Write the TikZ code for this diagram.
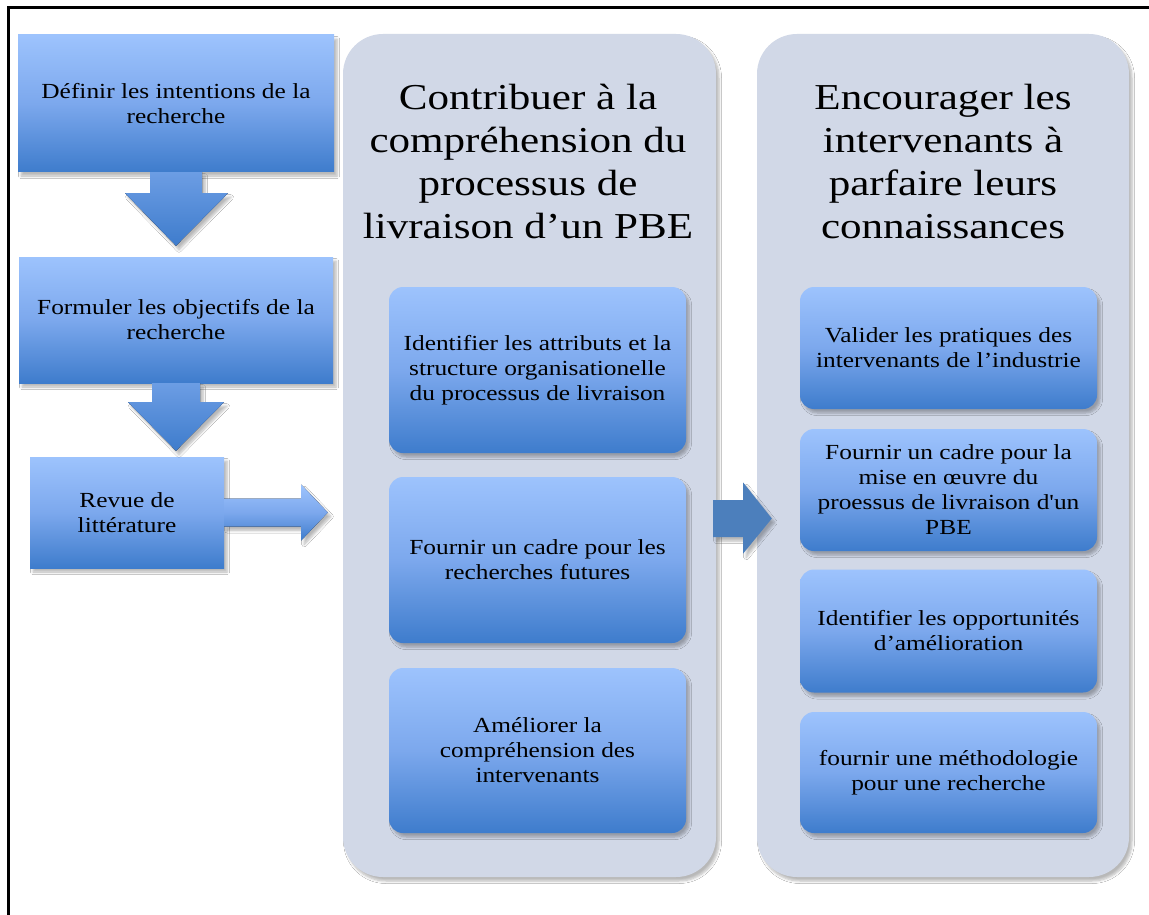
\documentclass[tikz,border=0pt]{standalone}
\usepackage{fontspec}
\setmainfont{Liberation Serif}[FakeStretch=1.18]
\newfontfamily\nomap{Liberation Serif}[FakeStretch=1.18]
\usetikzlibrary{calc,shadows.blur}
\definecolor{boxtop}{RGB}{157,195,253}
\definecolor{boxmid}{RGB}{124,168,237}
\definecolor{boxbot}{RGB}{62,124,204}
\definecolor{arrtop}{RGB}{108,157,228}
\definecolor{panelc}{RGB}{209,216,231}
\definecolor{midarrow}{RGB}{76,127,188}
\tikzset{
  shad/.style={blur shadow={shadow xshift=3pt,shadow yshift=-4pt,shadow blur radius=2.5pt,shadow blur steps=6,shadow opacity=28}},
  boxshade/.style={top color=boxtop,bottom color=boxbot,middle color=boxmid},
  txt/.style={font=\fontsize{21.5}{25}\selectfont,align=center,text=black},
  sqbox/.style={shad,boxshade,txt,inner sep=0pt},
  rbox/.style={shad,boxshade,txt,inner sep=0pt,rounded corners=14pt,minimum width=297pt},
  panelbox/.style={shad,fill=panelc,rounded corners=40pt,inner sep=0pt},
  titletxt/.style={font=\fontsize{36.5}{43}\selectfont,align=center,text=black},
  downarrow/.style={shad,top color=arrtop,bottom color=boxbot},
}
\begin{document}
\begin{tikzpicture}[x=1pt,y=-1pt]
\useasboundingbox (0,0) rectangle (1149,915);
\fill[white] (0,0) rectangle (1149,915);
\draw[line width=3pt] (8.5,915) -- (8.5,7.5) -- (1149,7.5);

% panels
\node[panelbox,minimum width=373pt,minimum height=843pt] (P1) at (529.5,455.5) {};
\node[panelbox,minimum width=372pt,minimum height=843pt] (P2) at (943,455.5) {};
\node[titletxt] (T1) at (528,161.5) {Contribuer à la\\compréhension du\\processus de\\livraison d’un PBE};
\node[titletxt] (T2) at (943,161.5) {Encourager les\\intervenants à\\parfaire leurs\\connaissances};

% left boxes
\node[sqbox,minimum width=316pt,minimum height=137pt] (b1) at (176,103.5) {Définir les intentions de la\\recherche};
\node[sqbox,minimum width=314pt,minimum height=126pt] (b2) at (176,320) {Formuler les objectifs de la\\recherche};
\node[sqbox,minimum width=194pt,minimum height=111pt] (b3) at (127,512.5) {Revue de\\littérature};

% middle boxes
\node[rbox,minimum height=166pt] (m1) at (537.5,370) {Identifier les attributs et la\\structure organisationelle\\du processus de livraison};
\node[rbox,minimum height=166pt] (m2) at (537.5,560) {Fournir un cadre pour les\\recherches futures};
\node[rbox,minimum height=165pt] (m3) at (537.5,750.5) {Améliorer la\\compréhension des\\intervenants};

% right boxes
\node[rbox,minimum height=122pt] (r1) at (948.5,348) {Valider les pratiques des\\intervenants de l’industrie};
\node[rbox,minimum height=122pt] (r2) at (948.5,490) {Fournir un cadre pour la\\mise en œuvre du\\proessus de livraison d{\nomap '}un\\PBE};
\node[rbox,minimum height=123pt] (r3) at (948.5,631) {Identifier les opportunités\\d’amélioration};
\node[rbox,minimum height=121pt] (r4) at (948.5,772.5) {fournir une méthodologie\\pour une recherche};

% arrow b1 -> b2
\fill[downarrow] ($(b1.south)+(-26,0)$) -- ($(b1.south)+(-26,21)$) -- ($(b1.south)+(-51,21)$)
  -- ($(b2.north)+(0,-11)$) -- ($(b1.south)+(52,21)$) -- ($(b1.south)+(26,21)$) -- ($(b1.south)+(26,0)$) -- cycle;
% arrow b2 -> b3
\coordinate (tip2) at ($(b2.south |- b3.north)+(0,-6)$);
\fill[downarrow] ($(b2.south)+(-24,0)$) -- ($(b2.south)+(-24,19)$) -- ($(b2.south)+(-48,19)$)
  -- (tip2) -- ($(b2.south)+(48,19)$) -- ($(b2.south)+(24,19)$) -- ($(b2.south)+(24,0)$) -- cycle;
% arrow b3 -> P1
\coordinate (tip3) at ($(P1.west |- b3.east)+(-15,0)$);
\fill[shad,boxshade] ($(b3.east)+(0,-14)$) -- ($(b3.east)+(77,-14)$) -- ($(b3.east)+(77,-28)$)
  -- (tip3) -- ($(b3.east)+(77,28)$) -- ($(b3.east)+(77,14)$) -- ($(b3.east)+(0,14)$) -- cycle;
% arrow P1 -> P2
\coordinate (s4) at ($(P1.east)+(-3,63)$);
\coordinate (tip4) at ($(P2.west)+(15,63)$);
\fill[shad,midarrow] ($(s4)+(0,-18.5)$) -- ($(s4)+(30,-18.5)$) -- ($(s4)+(30,-36)$)
  -- (tip4) -- ($(s4)+(30,35)$) -- ($(s4)+(30,18.5)$) -- ($(s4)+(0,18.5)$) -- cycle;
\end{tikzpicture}
\end{document}
